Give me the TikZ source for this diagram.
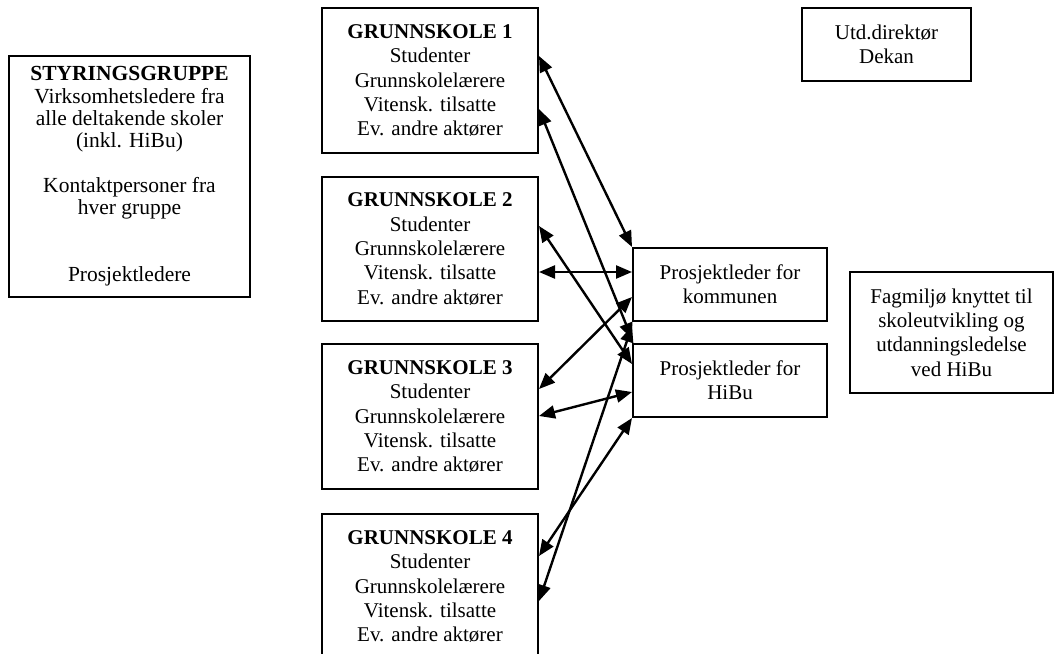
\documentclass[tikz,border=0pt]{standalone}
\usepackage{fontspec}
\setmainfont{Liberation Serif}
\usetikzlibrary{arrows.meta,calc}
\tikzset{
  box/.style={draw, line width=2pt, inner sep=0pt, align=center,
    font=\fontsize{21}{24.3}\selectfont},
  tightbox/.style={box, font=\fontsize{21.5}{22.3}\selectfont},
  link/.style={line width=2.4pt, {Triangle[length=16pt,width=13pt]}-{Triangle[length=16pt,width=13pt]}}
}
\begin{document}
\begin{tikzpicture}[x=1pt,y=-1pt]
\useasboundingbox (0,0) rectangle (1054,653);
\clip (0,0) rectangle (1054,653);
\fill[white] (0,0) rectangle (1054,653);
\node[tightbox, minimum width=241pt, minimum height=241pt] (sty) at (129.5,176.5)
  {\textbf{STYRINGSGRUPPE}\\ Virksomhetsledere fra\\ alle deltakende skoler\\ (inkl. HiBu)\\[22.3pt]
   Kontaktpersoner fra\\ hver gruppe\\[44.6pt] Prosjektledere};
\node[box, minimum width=216pt, minimum height=145pt] (g1) at (430,80.5)
  {\textbf{GRUNNSKOLE 1}\\ Studenter\\ Grunnskolelærere\\ Vitensk. tilsatte\\ Ev. andre aktører};
\node[box, minimum width=216pt, minimum height=144pt] (g2) at (430,249)
  {\textbf{GRUNNSKOLE 2}\\ Studenter\\ Grunnskolelærere\\ Vitensk. tilsatte\\ Ev. andre aktører};
\node[box, minimum width=216pt, minimum height=145pt] (g3) at (430,416.5)
  {\textbf{GRUNNSKOLE 3}\\ Studenter\\ Grunnskolelærere\\ Vitensk. tilsatte\\ Ev. andre aktører};
\node[box, minimum width=216pt, minimum height=145pt] (g4) at (430,586.5)
  {\textbf{GRUNNSKOLE 4}\\ Studenter\\ Grunnskolelærere\\ Vitensk. tilsatte\\ Ev. andre aktører};
\node[box, minimum width=169pt, minimum height=73pt] (utd) at (886.5,44.5)
  {Utd.direktør\\ Dekan};
\node[box, minimum width=194pt, minimum height=73pt] (pk) at (730,284.5)
  {Prosjektleder for\\ kommunen};
\node[box, minimum width=194pt, minimum height=73pt] (ph) at (730,380.5)
  {Prosjektleder for\\ HiBu};
\node[box, minimum width=203pt, minimum height=121pt] (fag) at (951.5,332.5)
  {Fagmiljø knyttet til\\ skoleutvikling og\\ utdanningsledelse\\ ved HiBu};
% connectors
\draw[link] ([yshift=-49pt]g1.north east) -- (pk.north west);
\draw[link] ([yshift=-102pt]g1.north east) -- ([yshift=4pt]ph.north west);
\draw[link] ([yshift=-50pt]g2.north east) -- ([yshift=-21pt]ph.north west);
\draw[link] ([yshift=-96pt]g2.north east) -- ([yshift=-25pt]pk.north west);
\draw[link] ([yshift=-50pt]pk.north west) -- ([yshift=-46pt]g3.north east);
\draw[link] ([yshift=-73pt]g3.north east) -- ([yshift=-49pt]ph.north west);
\draw[link] (ph.south west) -- ([yshift=-43pt]g4.north east);
\draw[link] ([yshift=-88pt]g4.north east) -- ([yshift=-4pt]pk.south west);
\end{tikzpicture}
\end{document}
